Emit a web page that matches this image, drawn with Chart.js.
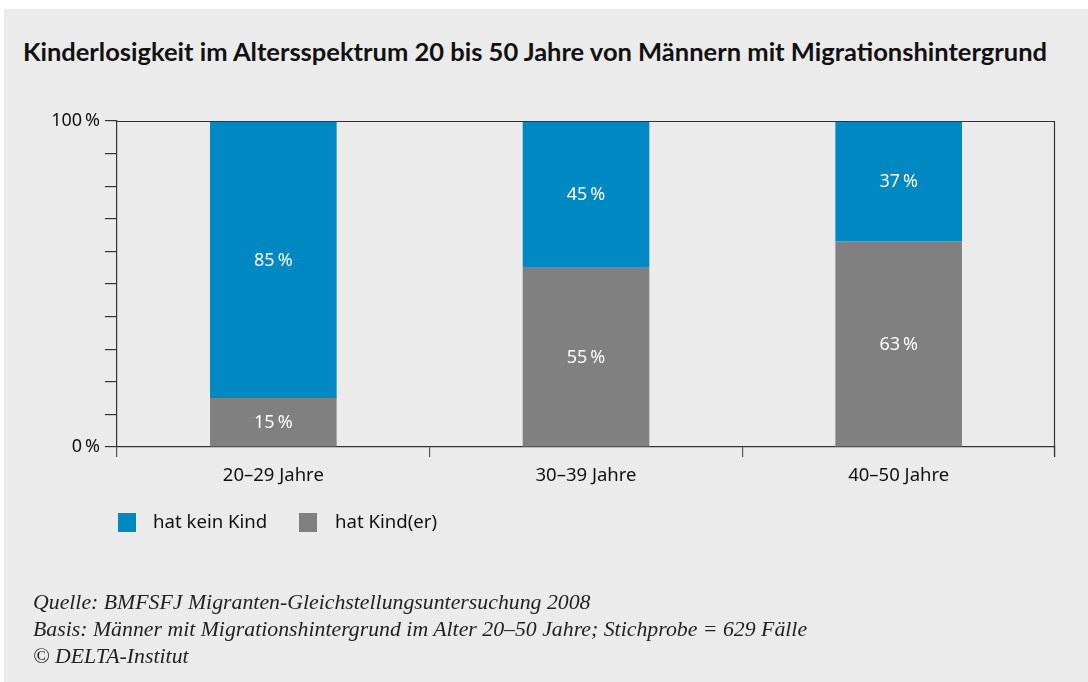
<!DOCTYPE html>
<html>
<head>
<meta charset="utf-8">
<script src="https://cdn.jsdelivr.net/npm/chart.js@4.4.0/dist/chart.umd.min.js"></script>
<style>
  html, body { margin:0; padding:0; background:#ffffff; }
  body { width:1088px; height:682px; position:relative; overflow:hidden; }
  #panel { position:absolute; left:4px; top:9px; right:0; bottom:0; background:#ebebeb; }
  #title { position:absolute; left:-9px; width:1088px; top:36px; text-align:center; font-family:Lato, sans-serif; font-weight:bold; font-size:25.5px; color:#111; white-space:nowrap; }
  #chartWrap { position:absolute; left:0; top:0; width:1088px; height:682px; }
  #legend { position:absolute; left:118px; top:512px; font-family:"Noto Sans", sans-serif; font-size:18.6px; color:#111; }
  .li { position:absolute; white-space:nowrap; }
  .sw { position:absolute; width:18px; height:19px; }
  #notes { position:absolute; left:33px; top:589px; font-family:"Liberation Serif", serif; font-style:italic; font-size:21.8px; line-height:27px; color:#222; white-space:nowrap; }
</style>
</head>
<body>
<div id="panel"></div>
<div id="title">Kinderlosigkeit im Altersspektrum 20 bis 50 Jahre von Männern mit Migrationshintergrund</div>
<div id="chartWrap"><canvas id="c" width="1088" height="682"></canvas></div>
<div id="legend"></div>
<div id="notes">Quelle: BMFSFJ Migranten-Gleichstellungsuntersuchung 2008<br>Basis: Männer mit Migrationshintergrund im Alter 20–50 Jahre; Stichprobe = 629 Fälle<br>© DELTA-Institut</div>
<script>
const categories = ["20–29 Jahre", "30–39 Jahre", "40–50 Jahre"];
const seriesNames = ["hat Kind(er)", "hat kein Kind"];
const hatKind = [15, 55, 63];
const hatKeinKind = [85, 45, 37];
const yTickLabels = {0: "0 %", 100: "100 %"};
const colors = { kind: "#808080", keinKind: "#0088c2" };

// HTML legend (order: kein Kind first)
const legendItems = [
  { name: seriesNames[1], color: colors.keinKind, x: 0, tx: 35 },
  { name: seriesNames[0], color: colors.kind, x: 181, tx: 217 }
];
const lg = document.getElementById('legend');
legendItems.forEach(it => {
  const s = document.createElement('div'); s.className='sw'; s.style.left=it.x+'px'; s.style.top='1px'; s.style.background=it.color; lg.appendChild(s);
  const t = document.createElement('div'); t.className='li'; t.style.left=it.tx+'px'; t.style.top='-4px'; t.textContent=it.name; lg.appendChild(t);
});

const boxPlugin = {
  id:'box',
  afterDatasetsDraw(chart){
    const {ctx, chartArea:a} = chart;
    ctx.save();
    ctx.strokeStyle='#333'; ctx.lineWidth=1.2;
    ctx.beginPath();
    ctx.moveTo(a.left, a.top+0.5); ctx.lineTo(a.right, a.top+0.5);
    ctx.moveTo(a.right-0.5, a.top); ctx.lineTo(a.right-0.5, a.bottom+10);
    ctx.stroke();
    // value labels
    ctx.fillStyle='#ffffff';
    ctx.font='18px "Noto Sans", sans-serif';
    ctx.textAlign='center'; ctx.textBaseline='middle';
    chart.data.datasets.forEach((ds, di) => {
      const meta = chart.getDatasetMeta(di);
      meta.data.forEach((bar, i) => {
        const v = ds.data[i];
        const y = (bar.y + bar.base)/2;
        ctx.fillText(v + '\u2009%', bar.x, y + 1);
      });
    });
    ctx.restore();
  }
};

new Chart(document.getElementById('c'), {
  type:'bar',
  data:{
    labels: categories,
    datasets:[
      { label: seriesNames[0], data: hatKind, backgroundColor: colors.kind, borderWidth:0 },
      { label: seriesNames[1], data: hatKeinKind, backgroundColor: colors.keinKind, borderWidth:0 }
    ]
  },
  options:{
    responsive:false,
    animation:false,
    events:[],
    layout:{ padding:{ left:32, top:121, right:33, bottom:195 } },
    datasets:{ bar:{ categoryPercentage:1, barPercentage:0.405 } },
    plugins:{ legend:{display:false}, title:{display:false}, tooltip:{enabled:false} },
    scales:{
      x:{
        stacked:true,
        offset:true,
        grid:{ offset:true, drawOnChartArea:false, drawTicks:true, tickLength:10, color:'#555', lineWidth:1.2 },
        border:{ display:true, color:'#333', width:1.2 },
        ticks:{ color:'#111', font:{ family:'"Noto Sans", sans-serif', size:18.5 }, padding:8 },
        afterFit(s){ s.height = 40; }
      },
      y:{
        stacked:true,
        min:0, max:100,
        grid:{ drawOnChartArea:false, drawTicks:true, tickLength:12, color:'#333', lineWidth:1.2 },
        border:{ display:true, color:'#333', width:1.2 },
        ticks:{ stepSize:10, autoSkip:false, color:'#111', font:{ family:'"Noto Sans", sans-serif', size:18 }, padding:5,
          callback:(v)=> (v in yTickLabels) ? yTickLabels[v].replace(' ', '\u2009') : '' },
        afterFit(s){ s.width = 85; }
      }
    }
  },
  plugins:[boxPlugin]
});
</script>
</body>
</html>
